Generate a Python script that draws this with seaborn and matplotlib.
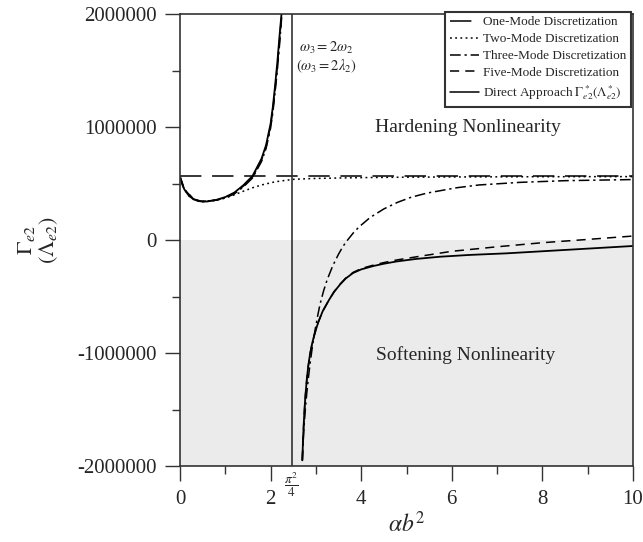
import numpy as np
import pandas as pd
import matplotlib
matplotlib.use("Agg")
import matplotlib.pyplot as plt
from matplotlib.lines import Line2D
from matplotlib.ticker import MultipleLocator
import seaborn as sns

# ---------------- data ----------------
one_x = [0.0, 10.0]
one_y = [565000, 565000]

two_x = [0.0, 0.05, 0.1, 0.2, 0.3, 0.4, 0.5, 0.6, 0.8, 1.0, 1.2, 1.4, 1.6, 1.8, 2.1, 2.5, 3.0, 4.0, 5.0, 6.0, 8.0, 10.0]
two_y = [560000, 490000, 445000, 390000, 360000, 345000, 340000, 341000, 352000, 372000, 400000, 432000,
         462000, 487000, 515000, 537000, 545000, 552000, 556000, 558000, 560000, 561000]

direct1_x = [0.0, 0.05, 0.1, 0.2, 0.3, 0.4, 0.5, 0.6, 0.8, 1.0, 1.2, 1.4, 1.6, 1.8, 1.9, 2.0, 2.05, 2.1, 2.15, 2.2, 2.24]
direct1_y = [560000, 490000, 445000, 390000, 360000, 345000, 340000, 341000, 355000, 380000, 420000, 485000,
             566000, 720000, 840000, 1030000, 1180000, 1370000, 1580000, 1820000, 2000000]

three1_x = [0.0, 0.1, 0.3, 0.5, 0.8, 1.0, 1.2, 1.4, 1.6, 1.8, 1.9, 2.0, 2.05, 2.1, 2.15, 2.2, 2.25]
three1_y = [560000, 447000, 362000, 342000, 352000, 372000, 408000, 470000, 548000, 695000, 810000,
            990000, 1130000, 1310000, 1510000, 1740000, 2000000]

five1_x = [0.0, 0.1, 0.3, 0.5, 0.8, 1.0, 1.2, 1.4, 1.6, 1.8, 1.9, 2.0, 2.05, 2.1, 2.15, 2.2, 2.245]
five1_y = [560000, 446000, 361000, 341000, 353000, 376000, 414000, 478000, 557000, 708000, 825000,
           1010000, 1155000, 1340000, 1545000, 1780000, 2000000]

direct2_x = [2.70, 2.715, 2.73, 2.75, 2.77, 2.80, 2.83, 2.87, 2.92, 2.98, 3.05, 3.15, 3.29, 3.40, 3.53,
             3.66, 3.82, 4.0, 4.27, 4.5, 4.78, 5.2, 5.74, 6.4, 7.21, 8.5, 10.0]
direct2_y = [-1950000, -1780000, -1640000, -1490000, -1370000, -1230000, -1120000, -1010000, -910000,
             -820000, -730000, -630000, -530000, -460000, -395000, -340000, -292000, -260000, -230000,
             -210000, -190000, -168000, -148000, -132000, -118000, -88000, -53000]

three2_x = [2.70, 2.72, 2.74, 2.77, 2.80, 2.84, 2.87, 2.92, 2.98, 3.04, 3.09, 3.17, 3.25, 3.37, 3.5, 3.6,
            3.7, 3.82, 3.95, 4.2, 4.5, 4.8, 5.1, 5.45, 6.1, 6.6, 7.5, 8.5, 10.0]
three2_y = [-1950000, -1780000, -1640000, -1480000, -1350000, -1200000, -1100000, -950000, -800000,
            -670000, -570000, -450000, -350000, -230000, -125000, -55000, 0, 60000, 115000, 200000,
            275000, 333000, 378000, 415000, 462000, 487000, 510000, 525000, 535000]

five2_x = [2.70, 2.715, 2.73, 2.75, 2.77, 2.80, 2.83, 2.87, 2.92, 2.98, 3.05, 3.15, 3.29, 3.40, 3.53,
           3.66, 3.82, 4.0, 4.27, 4.5, 4.78, 5.2, 5.6, 6.0, 7.0, 8.0, 9.0, 10.0]
five2_y = [-1950000, -1780000, -1640000, -1490000, -1370000, -1230000, -1120000, -1010000, -910000,
           -820000, -730000, -630000, -530000, -458000, -392000, -336000, -287000, -253000, -222000,
           -200000, -177000, -150000, -125000, -100000, -60000, -24000, 5000, 35000]

legend_labels = ["One-Mode Discretization", "Two-Mode Discretization", "Three-Mode Discretization",
                 "Five-Mode Discretization", r"Direct Approach $\Gamma^*_{e2}(\Lambda^*_{e2})$"]

x_ticks = [0, 2, 4, 6, 8, 10]
y_ticks = [-2000000, -1000000, 0, 1000000, 2000000]
resonance_x = np.pi ** 2 / 4

# ---------------- style ----------------
sns.set_theme(style="ticks")
plt.rcParams["font.family"] = ["Liberation Serif", "DejaVu Serif"]
plt.rcParams["mathtext.fontset"] = "stix"
plt.rcParams["axes.edgecolor"] = "#333333"

ls_one = (0, (14, 7))
ls_two = (0, (1.2, 2.2))
ls_three = (0, (7, 2.5, 1.5, 2.5))
ls_five = (0, (6, 4))
ls_direct = "-"

fig = plt.figure(figsize=(6.43, 5.42), dpi=100)
ax = fig.add_axes([180 / 643, 1 - 466 / 542, 453 / 643, 452 / 542])

ax.axhspan(-2000000, 0, xmin=0, xmax=1, color="#ebebeb", zorder=0, lw=0)

def draw(xs, ys, ls, lw=1.1):
    sns.lineplot(x=xs, y=ys, ax=ax, color="black", linestyle=ls, lw=lw,
                 sort=False, estimator=None, legend=False)

draw(one_x, one_y, ls_one)
draw(two_x, two_y, ls_two)
draw(three1_x, three1_y, ls_three)
draw(three2_x, three2_y, ls_three)
draw(five1_x, five1_y, ls_five)
draw(five2_x, five2_y, ls_five)
draw(direct1_x, direct1_y, ls_direct, lw=1.3)
draw(direct2_x, direct2_y, ls_direct, lw=1.3)

ax.axvline(resonance_x, color="#333333", lw=1.2)

ax.set_xlim(0, 10)
ax.set_ylim(-2000000, 2000000)
ax.set_xticks(x_ticks)
ax.set_xticklabels([str(t) for t in x_ticks])
ax.set_yticks(y_ticks)
ax.set_yticklabels([str(t) for t in y_ticks])
ax.xaxis.set_minor_locator(MultipleLocator(1))
ax.yaxis.set_minor_locator(MultipleLocator(500000))
ax.tick_params(which="major", direction="out", length=11, width=1, labelsize=15, pad=6, color="#333333")
ax.tick_params(which="minor", direction="out", length=6, width=1, color="#333333")
for sp in ax.spines.values():
    sp.set_visible(True)
    sp.set_linewidth(1.2)

ax.set_xlabel(r"$\alpha b^2$", fontsize=17, labelpad=2)
fig.text(38 / 643, 1 - 240 / 542, r"$\Gamma_{e2}$" + "\n" + r"$(\Lambda_{e2})$", fontsize=16,
         rotation=90, ha="center", va="center", multialignment="center", linespacing=1.0)

ax.text(6.36, 1000000, "Hardening Nonlinearity", fontsize=14, ha="center", va="center")
ax.text(6.31, -1020000, "Softening Nonlinearity", fontsize=14, ha="center", va="center")
ax.text(2.62, 1700000, r"$\omega_3 = 2\omega_2$", fontsize=10.5, ha="left", va="center")
ax.text(2.55, 1540000, r"$(\omega_3 = 2\lambda_2)$", fontsize=10.5, ha="left", va="center")
ax.text(resonance_x, -0.042, r"$\dfrac{\pi^2}{4}$", fontsize=9.5, ha="center", va="center",
        transform=ax.get_xaxis_transform())

handles = [Line2D([], [], color="black", lw=1.1, linestyle=ls)
           for ls in [ls_one, ls_two, ls_three, ls_five, ls_direct]]
leg = ax.legend(handles, legend_labels, loc="upper right", bbox_to_anchor=(1.01, 1.02),
                fontsize=9.5, handlelength=2.2, handletextpad=0.3, labelspacing=0.35,
                borderpad=0.35, fancybox=False, framealpha=1, edgecolor="#333333")
leg.get_frame().set_linewidth(1.5)

fig.savefig("out.png", dpi=100)
